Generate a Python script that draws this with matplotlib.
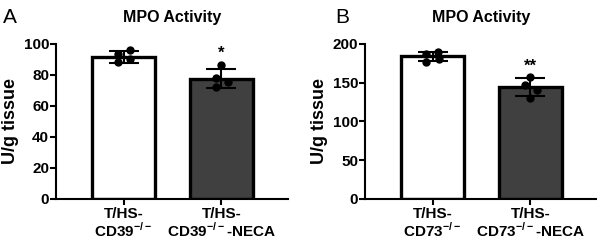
import matplotlib.pyplot as plt

plt.rcParams['font.family'] = ['Liberation Sans', 'DejaVu Sans']
plt.rcParams['font.weight'] = 'bold'
plt.rcParams['axes.titleweight'] = 'bold'
plt.rcParams['axes.labelweight'] = 'bold'
plt.rcParams['mathtext.fontset'] = 'custom'
plt.rcParams['mathtext.rm'] = 'Liberation Sans:bold'
plt.rcParams['mathtext.bf'] = 'Liberation Sans:bold'

# panel A: CD39
labels_a = ['T/HS-\nCD39$^{-/-}$', 'T/HS-\nCD39$^{-/-}$-NECA']
means_a = [91.5, 77.6]
sd_a = [3.7, 6.0]
dots_a = [[93.5, 96.3, 88.1, 90.3], [86.5, 78.3, 75.3, 72.1]]
jitter_a = [[-0.06, 0.065, -0.06, 0.065], [0.0, -0.06, 0.065, -0.06]]
star_a = ['', '*']
star_y_a = [0, 94]

# panel B: CD73
labels_b = ['T/HS-\nCD73$^{-/-}$', 'T/HS-\nCD73$^{-/-}$-NECA']
means_b = [184.0, 144.0]
sd_b = [5.5, 11.5]
dots_b = [[187.5, 190.0, 176.8, 180.2], [157.4, 146.7, 140.2, 130.7]]
jitter_b = [[-0.065, 0.06, -0.065, 0.065], [0.0, -0.055, 0.065, 0.0]]
star_b = ['', '**']
star_y_b = [0, 171]

colors = ['white', '#404040']

fig = plt.figure(figsize=(5.97, 2.45), dpi=100)


def panel(rect, labels, means, sd, dots, jitter, stars, star_y, ymax, step, letter, letter_x):
    ax = fig.add_axes(rect)
    x = [0, 1]
    ax.bar(x, means, width=0.65, color=colors, edgecolor='black', linewidth=2.4, zorder=1)
    ax.errorbar(x, means, yerr=sd, fmt='none', ecolor='black', elinewidth=1.5,
                capsize=11, capthick=1.5, zorder=3)
    for i in x:
        ax.plot([i + j for j in jitter[i]], dots[i], 'o', color='black', ms=5, zorder=4)
        if stars[i]:
            ax.text(i, star_y[i], stars[i], ha='center', va='center', fontsize=12)
    ax.set_xlim(-0.69, 1.68)
    ax.set_ylim(0, ymax)
    ax.set_yticks(range(0, ymax + 1, step))
    ax.set_xticks(x)
    ax.set_xticklabels(labels, fontsize=11, linespacing=1.0)
    ax.tick_params(axis='both', width=1.5, length=4, labelsize=11)
    ax.tick_params(axis='y', pad=1)
    ax.tick_params(axis='x', pad=2)
    for s in ['top', 'right']:
        ax.spines[s].set_visible(False)
    for s in ['left', 'bottom']:
        ax.spines[s].set_linewidth(1.5)
    ax.set_ylabel('U/g tissue', fontsize=13, labelpad=3)
    ax.set_title('MPO Activity', fontsize=11.5, pad=16)
    fig.text(letter_x, 0.93, letter, fontsize=15, fontweight='normal', va='center')
    return ax


panel([0.0938, 0.1878, 0.3886, 0.6327], labels_a, means_a, sd_a, dots_a, jitter_a,
      star_a, star_y_a, 100, 20, 'A', 0.005)
panel([0.6114, 0.1878, 0.3886, 0.6327], labels_b, means_b, sd_b, dots_b, jitter_b,
      star_b, star_y_b, 200, 50, 'B', 0.561)

fig.savefig('out.png', dpi=100)
